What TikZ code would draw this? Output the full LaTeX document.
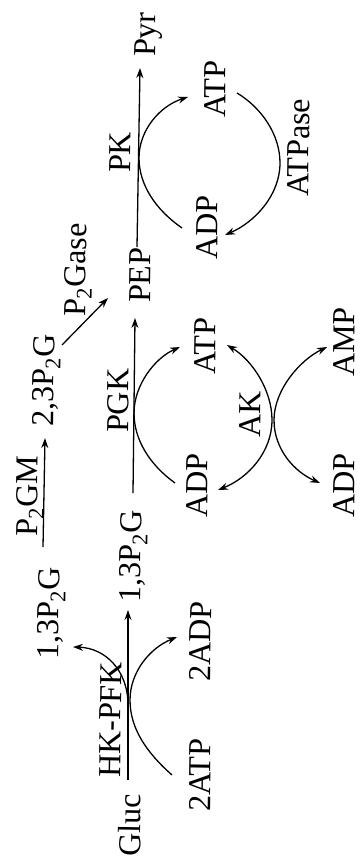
\documentclass[tikz,border=0pt]{standalone}
\usepackage{fontspec}
\setmainfont{Liberation Serif}
\usetikzlibrary{arrows.meta}
\begin{document}
\begin{tikzpicture}[x=1pt,y=-1pt,
  lbl/.style={rotate=89, anchor=base west, inner sep=0pt, font=\fontsize{32}{36}\selectfont},
  ln/.style={line width=1.3pt},
  arr/.style={ln, -{Stealth[length=10pt,width=7pt]}},
  darr/.style={ln, {Stealth[length=10pt,width=7pt]}-{Stealth[length=10pt,width=7pt]}}]
\useasboundingbox (0,0) rectangle (360,859);

% labels
\node[lbl] (pyr)    at (155,57)  {Pyr};
\node[lbl] (pk)     at (130,173) {PK};
\node[lbl] (atpA)   at (225,118) {ATP};
\node[lbl] (adpA)   at (217,260) {ADP};
\node[lbl] (atpase) at (308,197) {ATPase};
\node[lbl] (pep)    at (150,303) {PEP};
\node[lbl] (p2gase) at (85,317)  {P\textsubscript{2}Gase};
\node[lbl] (bpgB)   at (53,427)  {2,3P\textsubscript{2}G};
\node[lbl] (pgk)    at (128,433) {PGK};
\node[lbl] (atpB)   at (215,375) {ATP};
\node[lbl] (amp)    at (354,377) {AMP};
\node[lbl] (ak)     at (260,438) {AK};
\node[lbl] (p2gm)   at (37,537)  {P\textsubscript{2}GM};
\node[lbl] (adpB)   at (207,518) {ADP};
\node[lbl] (adpC)   at (354,518) {ADP};
\node[lbl] (bpgA)   at (140,603) {1,3P\textsubscript{2}G};
\node[lbl] (bpgU)   at (58,660)  {1,3P\textsubscript{2}G};
\node[lbl] (adp2)   at (210,682) {2ADP};
\node[lbl] (hkpfk)  at (120,778) {HK-PFK};
\node[lbl] (atp2)   at (210,812) {2ATP};
\node[lbl] (gluc)   at (140,857) {Gluc};

% connector end points
\coordinate (glS) at (128,780);  \coordinate (glE) at (128,610);
\coordinate (hkA) at (172,775);  \coordinate (hkT) at (130,700);  \coordinate (hkB) at (177,637);
\coordinate (brS) at (128,705);  \coordinate (brE) at (73,647);
\coordinate (gmS) at (43,547);   \coordinate (gmE) at (45,438);
\coordinate (dgS) at (62,345);   \coordinate (dgE) at (108,298);
\coordinate (pgS) at (133,493);  \coordinate (pgE) at (135,318);
\coordinate (pgA) at (175,483);  \coordinate (pgT) at (134,413);  \coordinate (pgB) at (180,347);
\coordinate (pkS) at (137,247);  \coordinate (pkE) at (140,68);
\coordinate (pkA) at (182,228);  \coordinate (pkT) at (139,158);  \coordinate (pkB) at (188,97);
\coordinate (asA) at (237,93);   \coordinate (asT) at (280,163);  \coordinate (asB) at (225,235);
\coordinate (akA) at (227,345);  \coordinate (akT) at (272,420);  \coordinate (akB) at (218,490);
\coordinate (akC) at (327,347);  \coordinate (akU) at (274,420);  \coordinate (akD) at (320,483);

% main pathway
\draw[arr] (glS) -- (glE);
\draw[arr] (hkA) .. controls (146,752) and (130,728) .. (hkT) .. controls (130,672) and (150,648) .. (hkB);
\draw[arr] (brS) .. controls (128,670) and (105,648) .. (brE);
\draw[arr] (gmS) -- (gmE);
\draw[arr] (dgS) -- (dgE);
\draw[arr] (pgS) -- (pgE);
\draw[arr] (pgA) .. controls (150,465) and (134,440) .. (pgT) .. controls (134,385) and (155,358) .. (pgB);
\draw[arr] (pkS) -- (pkE);
\draw[arr] (pkA) .. controls (156,210) and (139,185) .. (pkT) .. controls (139,130) and (160,106) .. (pkB);
\draw[arr] (asA) .. controls (262,108) and (280,135) .. (asT) .. controls (280,195) and (255,222) .. (asB);
\draw[darr] (akA) .. controls (252,360) and (272,390) .. (akT) .. controls (272,452) and (248,478) .. (akB);
\draw[darr] (akC) .. controls (300,360) and (274,390) .. (akU) .. controls (274,450) and (295,472) .. (akD);
\end{tikzpicture}
\end{document}
